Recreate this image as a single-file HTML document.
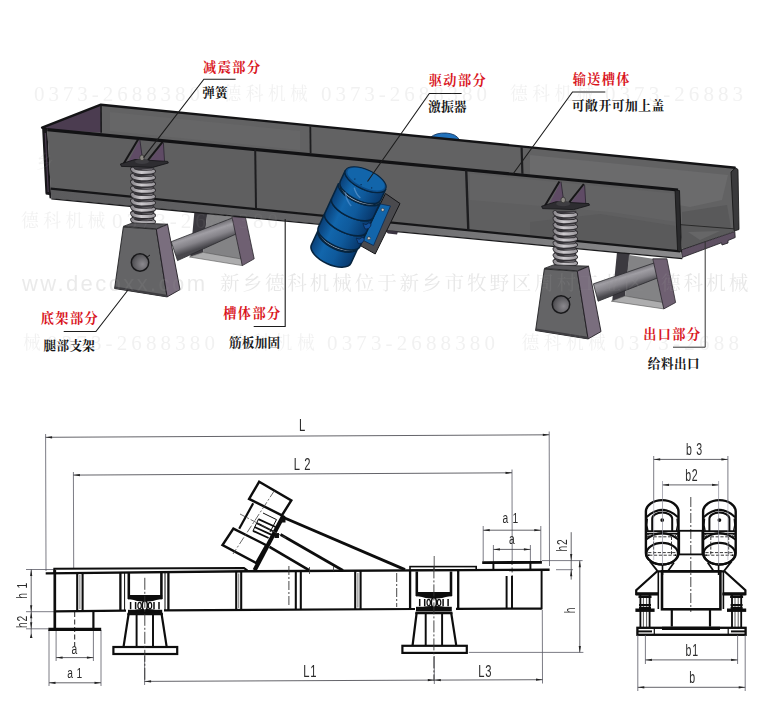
<!DOCTYPE html>
<html lang="zh"><head><meta charset="utf-8"><title>振动输送机结构与外形尺寸图</title>
<style>
html,body{margin:0;padding:0;background:#fff;}
body{width:768px;height:710px;overflow:hidden;font-family:"Liberation Sans",sans-serif;}
svg{display:block;}
</style></head><body>
<svg width="768" height="710" viewBox="0 0 768 710">
<defs>
<linearGradient id="tubeL" gradientUnits="userSpaceOnUse" x1="200" y1="230" x2="205.5" y2="246.5"><stop offset="0" stop-color="#77757b"/><stop offset="0.25" stop-color="#a09ea4"/><stop offset="0.6" stop-color="#858389"/><stop offset="1" stop-color="#48474c"/></linearGradient>
<linearGradient id="tubeR" gradientUnits="userSpaceOnUse" x1="623" y1="273" x2="628" y2="289"><stop offset="0" stop-color="#77757b"/><stop offset="0.25" stop-color="#a09ea4"/><stop offset="0.6" stop-color="#858389"/><stop offset="1" stop-color="#48474c"/></linearGradient>
<linearGradient id="spr" x1="0" y1="0" x2="1" y2="0"><stop offset="0" stop-color="#8f8c91"/><stop offset="0.42" stop-color="#cecbcf"/><stop offset="1" stop-color="#9f9ca1"/></linearGradient>
<linearGradient id="lip" gradientUnits="userSpaceOnUse" x1="50" y1="0" x2="682" y2="0"><stop offset="0" stop-color="#5b5b5d"/><stop offset="0.45" stop-color="#646466"/><stop offset="0.75" stop-color="#7c7c7e"/><stop offset="1" stop-color="#8a8a8c"/></linearGradient>
<radialGradient id="hole" cx="0.65" cy="0.6" r="0.8"><stop offset="0" stop-color="#8a888d"/><stop offset="0.6" stop-color="#5d5c60"/><stop offset="1" stop-color="#3a393d"/></radialGradient>
<linearGradient id="vib" gradientUnits="userSpaceOnUse" x1="-22" y1="0" x2="22" y2="0"><stop offset="0" stop-color="#0a4078"/><stop offset="0.28" stop-color="#1266ac"/><stop offset="0.6" stop-color="#0f5a9c"/><stop offset="1" stop-color="#08386c"/></linearGradient>
</defs>
<rect width="768" height="710" fill="#fff"/>
<g id="view3d">
<polygon points="194.4,212.0 207.5,212.0 203.0,252.5 190.2,256.7" fill="#3b393f" />
<polygon points="207.0,214.0 232.0,216.7 242.3,262.0 203.0,252.3" fill="#838385" />
<polygon points="189.5,257.0 203.0,252.3 241.5,259.0 242.3,265.6" fill="#adadae" stroke="#555" stroke-width="0.6" stroke-linejoin="round" />
<polygon points="171.2,241.7 233.5,217.5 239.8,232.3 177.5,260.6" fill="url(#tubeL)" stroke="#2b2b2e" stroke-width="0.8" stroke-linejoin="round" />
<polygon points="231.9,216.7 245.4,217.1 254.2,258.8 242.3,265.6" fill="#6f6072" stroke="#2a262c" stroke-width="0.8" stroke-linejoin="round" />
<polygon points="616.9,253.0 629.8,253.0 625.0,296.2 612.2,300.9" fill="#3b393f" />
<polygon points="629.0,255.0 652.8,258.8 663.8,305.0 625.0,296.0" fill="#838385" />
<polygon points="611.3,301.2 625.0,296.0 663.0,302.4 663.8,308.9" fill="#adadae" stroke="#555" stroke-width="0.6" stroke-linejoin="round" />
<polygon points="593.4,283.8 657.8,261.7 662.5,276.0 598.1,301.2" fill="url(#tubeR)" stroke="#2b2b2e" stroke-width="0.8" stroke-linejoin="round" />
<polygon points="652.8,258.8 666.9,258.8 675.6,302.5 663.8,308.9" fill="#6f6072" stroke="#2a262c" stroke-width="0.8" stroke-linejoin="round" />
<path d="M430.5,137.3 Q436,132.6 446,133 Q456,133.6 459.5,139.9 Z" fill="#2272bc" stroke="#0b2c55" stroke-width="0.8"/>
<polygon points="42.1,127.6 100.9,104.7 101.2,133.5 47.3,129.7" fill="#4b3c50" />
<polygon points="100.9,104.7 735.5,167.7 734.0,229.0 679.0,225.0 679.0,190.1 47.3,129.7 101.0,132.6" fill="#626263" />
<polygon points="110.0,112.0 300.0,131.0 300.0,150.0 110.0,131.0" fill="#666667" />
<polygon points="530.0,155.0 728.0,175.0 722.0,200.0 690.0,207.0 530.0,180.0" fill="#6b6b6c" />
<polygon points="682.0,212.0 727.0,205.0 731.0,228.0 682.0,224.0" fill="#59595a" />
<polygon points="679.7,224.4 733.8,228.6 734.8,231.3 682.3,250.0" fill="#5a5a5b" />
<polygon points="688.0,232.0 720.0,231.0 700.0,240.0" fill="#666667" />
<polygon points="681.5,249.9 734.8,231.5 735.2,237.5 728.0,240.5 728.0,243.0 722.0,245.0 721.5,242.8 682.0,257.5" fill="#5e5062" stroke="#1c1a1e" stroke-width="0.8" stroke-linejoin="round" />
<polygon points="735.5,167.7 738.0,169.5 739.0,229.5 734.3,231.0 733.8,228.0 731.0,172.0" fill="#3a3a3c" stroke="#111" stroke-width="0.8" stroke-linejoin="round" />
<line x1="679.7" y1="224.6" x2="733.8" y2="228.8" stroke="#222" stroke-width="0.9" />
<polyline points="47.3,129.7 42.1,127.6 100.9,104.7 735.5,167.7" fill="none" stroke="#141416" stroke-width="2.4" stroke-linejoin="round"/>
<line x1="101.0" y1="105.5" x2="101.2" y2="132.8" stroke="#1a1a1c" stroke-width="1.6" />
<line x1="310.3" y1="126.4" x2="310.6" y2="153.0" stroke="#1d1d1f" stroke-width="1.8" />
<line x1="521.6" y1="147.3" x2="522.4" y2="173.8" stroke="#1d1d1f" stroke-width="2.2" />
<polygon points="47.3,129.7 678.0,190.0 680.2,251.0 50.7,188.4" fill="#5f5f60" />
<polygon points="470.0,173.6 676.0,193.8 676.0,222.0 610.0,212.0 470.0,200.0" fill="#636364" />
<polygon points="530.0,222.0 600.0,214.0 676.0,226.0 676.0,250.0 530.0,236.0" fill="#5a5a5b" />
<polygon points="50.7,188.4 680.2,251.0 682.3,258.5 51.3,198.6" fill="url(#lip)" />
<polyline points="51.3,198.8 682.3,258.7" fill="none" stroke="#1a1a1c" stroke-width="1.3" />
<polygon points="42.1,127.6 47.3,129.7 50.7,188.4 51.3,198.6 49.6,198.2 49.2,195.0 45.8,194.6 45.4,193.0" fill="#18171a" />
<line x1="45.3" y1="133.0" x2="48.2" y2="192.0" stroke="#4b3c50" stroke-width="1.2" />
<polyline points="47.3,129.7 678.0,190.0" fill="none" stroke="#121214" stroke-width="3.2" />
<polyline points="50.7,188.7 680.2,251.3" fill="none" stroke="#151517" stroke-width="2.3" />
<polygon points="675.0,189.8 679.5,190.6 681.5,252.1 677.5,250.7" fill="#2a2a2c" stroke="#111" stroke-width="0.8" stroke-linejoin="round" />
<line x1="255.2" y1="149.5" x2="256.0" y2="208.8" stroke="#1d1d1f" stroke-width="2.0" />
<line x1="466.2" y1="170.2" x2="468.3" y2="229.9" stroke="#1d1d1f" stroke-width="2.4" />
<rect x="131.8" y="167.5" width="22.4" height="57.0" fill="#39373c"/>
<path d="M133.1,173.0 Q143.0,169.8 152.9,169.5" fill="none" stroke="#757277" stroke-width="1.8"/>
<path d="M133.1,179.3 Q143.0,176.1 152.9,175.8" fill="none" stroke="#757277" stroke-width="1.8"/>
<path d="M133.1,185.6 Q143.0,182.4 152.9,182.1" fill="none" stroke="#757277" stroke-width="1.8"/>
<path d="M133.1,191.9 Q143.0,188.7 152.9,188.4" fill="none" stroke="#757277" stroke-width="1.8"/>
<path d="M133.1,198.2 Q143.0,195.0 152.9,194.7" fill="none" stroke="#757277" stroke-width="1.8"/>
<path d="M133.1,204.5 Q143.0,201.3 152.9,201.0" fill="none" stroke="#757277" stroke-width="1.8"/>
<path d="M133.1,210.8 Q143.0,207.6 152.9,207.3" fill="none" stroke="#757277" stroke-width="1.8"/>
<path d="M133.1,217.1 Q143.0,213.9 152.9,213.6" fill="none" stroke="#757277" stroke-width="1.8"/>
<path d="M133.1,223.4 Q143.0,220.2 152.9,219.9" fill="none" stroke="#757277" stroke-width="1.8"/>
<path d="M132.5,169.2 Q133.2,172.0 141.5,172.4 Q153.2,172.2 153.5,171.4" fill="none" stroke="#2f2d31" stroke-width="4.8" stroke-linecap="round"/>
<path d="M132.5,169.2 Q133.2,172.0 141.5,172.4 Q153.2,172.2 153.5,171.4" fill="none" stroke="url(#spr)" stroke-width="3.1" stroke-linecap="round"/>
<path d="M132.5,175.6 Q133.2,178.3 141.5,178.7 Q153.2,178.6 153.5,177.7" fill="none" stroke="#2f2d31" stroke-width="4.8" stroke-linecap="round"/>
<path d="M132.5,175.6 Q133.2,178.3 141.5,178.7 Q153.2,178.6 153.5,177.7" fill="none" stroke="url(#spr)" stroke-width="3.1" stroke-linecap="round"/>
<path d="M132.5,181.9 Q133.2,184.6 141.5,185.0 Q153.2,184.9 153.5,184.1" fill="none" stroke="#2f2d31" stroke-width="4.8" stroke-linecap="round"/>
<path d="M132.5,181.9 Q133.2,184.6 141.5,185.0 Q153.2,184.9 153.5,184.1" fill="none" stroke="url(#spr)" stroke-width="3.1" stroke-linecap="round"/>
<path d="M132.5,188.2 Q133.2,190.9 141.5,191.3 Q153.2,191.2 153.5,190.4" fill="none" stroke="#2f2d31" stroke-width="4.8" stroke-linecap="round"/>
<path d="M132.5,188.2 Q133.2,190.9 141.5,191.3 Q153.2,191.2 153.5,190.4" fill="none" stroke="url(#spr)" stroke-width="3.1" stroke-linecap="round"/>
<path d="M132.5,194.5 Q133.2,197.2 141.5,197.6 Q153.2,197.5 153.5,196.7" fill="none" stroke="#2f2d31" stroke-width="4.8" stroke-linecap="round"/>
<path d="M132.5,194.5 Q133.2,197.2 141.5,197.6 Q153.2,197.5 153.5,196.7" fill="none" stroke="url(#spr)" stroke-width="3.1" stroke-linecap="round"/>
<path d="M132.5,200.8 Q133.2,203.5 141.5,203.9 Q153.2,203.8 153.5,203.0" fill="none" stroke="#2f2d31" stroke-width="4.8" stroke-linecap="round"/>
<path d="M132.5,200.8 Q133.2,203.5 141.5,203.9 Q153.2,203.8 153.5,203.0" fill="none" stroke="url(#spr)" stroke-width="3.1" stroke-linecap="round"/>
<path d="M132.5,207.1 Q133.2,209.8 141.5,210.2 Q153.2,210.1 153.5,209.3" fill="none" stroke="#2f2d31" stroke-width="4.8" stroke-linecap="round"/>
<path d="M132.5,207.1 Q133.2,209.8 141.5,210.2 Q153.2,210.1 153.5,209.3" fill="none" stroke="url(#spr)" stroke-width="3.1" stroke-linecap="round"/>
<path d="M132.5,213.4 Q133.2,216.1 141.5,216.5 Q153.2,216.4 153.5,215.6" fill="none" stroke="#2f2d31" stroke-width="4.8" stroke-linecap="round"/>
<path d="M132.5,213.4 Q133.2,216.1 141.5,216.5 Q153.2,216.4 153.5,215.6" fill="none" stroke="url(#spr)" stroke-width="3.1" stroke-linecap="round"/>
<path d="M132.5,219.7 Q133.2,222.4 141.5,222.8 Q153.2,222.7 153.5,221.9" fill="none" stroke="#2f2d31" stroke-width="4.8" stroke-linecap="round"/>
<path d="M132.5,219.7 Q133.2,222.4 141.5,222.8 Q153.2,222.7 153.5,221.9" fill="none" stroke="url(#spr)" stroke-width="3.1" stroke-linecap="round"/>
<polygon points="139.6,139.4 142.2,157.0 127.3,163.4" fill="#5f4b65" />
<polygon points="163.2,142.8 164.4,161.0 151.4,165.0 150.0,160.0" fill="#5f4b65" />
<line x1="138.2" y1="139.2" x2="123.6" y2="163.8" stroke="#161517" stroke-width="2.0" />
<line x1="162.6" y1="141.8" x2="148.0" y2="160.2" stroke="#161517" stroke-width="2.0" />
<line x1="139.8" y1="139.4" x2="142.2" y2="157.0" stroke="#2a2230" stroke-width="0.8" />
<line x1="163.4" y1="142.6" x2="164.5" y2="161.0" stroke="#2a2230" stroke-width="0.8" />
<polygon points="120.4,164.0 135.0,159.5 167.7,161.4 168.3,163.0 152.6,167.4 121.4,166.4" fill="#2e2d31" stroke="#131315" stroke-width="0.8" stroke-linejoin="round" />
<ellipse cx="142" cy="161.5" rx="7" ry="2.6" fill="#3e3d41"/>
<ellipse cx="142" cy="157.8" rx="2.3" ry="2.8" fill="#8d8a84" stroke="#2a2a2a" stroke-width="0.7"/>
<polygon points="123.3,226.4 132.7,222.9 167.6,224.2 156.4,228.8" fill="#57565a" stroke="#2a2a2c" stroke-width="0.9" stroke-linejoin="round" />
<polygon points="123.3,227.1 156.3,229.2 167.1,296.9 114.6,288.5" fill="#646466" stroke="#1f1f21" stroke-width="0.9" stroke-linejoin="round" />
<polygon points="156.3,229.2 167.6,224.4 180.0,289.6 167.1,296.9" fill="#7a6e7e" stroke="#1f1c21" stroke-width="0.9" stroke-linejoin="round" />
<polygon points="115.0,286.5 166.8,294.8 167.1,296.9 114.6,288.5" fill="#3e3d41" />
<circle cx="140" cy="262.5" r="8.7" fill="url(#hole)" stroke="#19191b" stroke-width="1.5"/>
<path d="M146.5,257.5 l3.5,-2.5" stroke="#19191b" stroke-width="1"/>
<rect x="554.3" y="210.8" width="22.0" height="55.2" fill="#39373c"/>
<path d="M555.6,216.1 Q565.3,212.9 575.0,212.8" fill="none" stroke="#757277" stroke-width="1.8"/>
<path d="M555.6,222.2 Q565.3,219.0 575.0,218.8" fill="none" stroke="#757277" stroke-width="1.8"/>
<path d="M555.6,228.3 Q565.3,225.1 575.0,224.9" fill="none" stroke="#757277" stroke-width="1.8"/>
<path d="M555.6,234.4 Q565.3,231.2 575.0,231.0" fill="none" stroke="#757277" stroke-width="1.8"/>
<path d="M555.6,240.5 Q565.3,237.3 575.0,237.1" fill="none" stroke="#757277" stroke-width="1.8"/>
<path d="M555.6,246.6 Q565.3,243.4 575.0,243.2" fill="none" stroke="#757277" stroke-width="1.8"/>
<path d="M555.6,252.7 Q565.3,249.5 575.0,249.3" fill="none" stroke="#757277" stroke-width="1.8"/>
<path d="M555.6,258.8 Q565.3,255.6 575.0,255.4" fill="none" stroke="#757277" stroke-width="1.8"/>
<path d="M555.6,264.9 Q565.3,261.7 575.0,261.5" fill="none" stroke="#757277" stroke-width="1.8"/>
<path d="M555.0,212.6 Q555.7,215.3 563.8,215.7 Q575.3,215.6 575.6,214.7" fill="none" stroke="#2f2d31" stroke-width="4.8" stroke-linecap="round"/>
<path d="M555.0,212.6 Q555.7,215.3 563.8,215.7 Q575.3,215.6 575.6,214.7" fill="none" stroke="url(#spr)" stroke-width="3.1" stroke-linecap="round"/>
<path d="M555.0,218.6 Q555.7,221.3 563.8,221.7 Q575.3,221.6 575.6,220.8" fill="none" stroke="#2f2d31" stroke-width="4.8" stroke-linecap="round"/>
<path d="M555.0,218.6 Q555.7,221.3 563.8,221.7 Q575.3,221.6 575.6,220.8" fill="none" stroke="url(#spr)" stroke-width="3.1" stroke-linecap="round"/>
<path d="M555.0,224.7 Q555.7,227.4 563.8,227.8 Q575.3,227.7 575.6,226.9" fill="none" stroke="#2f2d31" stroke-width="4.8" stroke-linecap="round"/>
<path d="M555.0,224.7 Q555.7,227.4 563.8,227.8 Q575.3,227.7 575.6,226.9" fill="none" stroke="url(#spr)" stroke-width="3.1" stroke-linecap="round"/>
<path d="M555.0,230.8 Q555.7,233.5 563.8,233.9 Q575.3,233.8 575.6,232.9" fill="none" stroke="#2f2d31" stroke-width="4.8" stroke-linecap="round"/>
<path d="M555.0,230.8 Q555.7,233.5 563.8,233.9 Q575.3,233.8 575.6,232.9" fill="none" stroke="url(#spr)" stroke-width="3.1" stroke-linecap="round"/>
<path d="M555.0,236.9 Q555.7,239.6 563.8,240.0 Q575.3,239.9 575.6,239.0" fill="none" stroke="#2f2d31" stroke-width="4.8" stroke-linecap="round"/>
<path d="M555.0,236.9 Q555.7,239.6 563.8,240.0 Q575.3,239.9 575.6,239.0" fill="none" stroke="url(#spr)" stroke-width="3.1" stroke-linecap="round"/>
<path d="M555.0,243.0 Q555.7,245.7 563.8,246.1 Q575.3,246.0 575.6,245.1" fill="none" stroke="#2f2d31" stroke-width="4.8" stroke-linecap="round"/>
<path d="M555.0,243.0 Q555.7,245.7 563.8,246.1 Q575.3,246.0 575.6,245.1" fill="none" stroke="url(#spr)" stroke-width="3.1" stroke-linecap="round"/>
<path d="M555.0,249.1 Q555.7,251.8 563.8,252.2 Q575.3,252.1 575.6,251.2" fill="none" stroke="#2f2d31" stroke-width="4.8" stroke-linecap="round"/>
<path d="M555.0,249.1 Q555.7,251.8 563.8,252.2 Q575.3,252.1 575.6,251.2" fill="none" stroke="url(#spr)" stroke-width="3.1" stroke-linecap="round"/>
<path d="M555.0,255.2 Q555.7,257.9 563.8,258.3 Q575.3,258.2 575.6,257.3" fill="none" stroke="#2f2d31" stroke-width="4.8" stroke-linecap="round"/>
<path d="M555.0,255.2 Q555.7,257.9 563.8,258.3 Q575.3,258.2 575.6,257.3" fill="none" stroke="url(#spr)" stroke-width="3.1" stroke-linecap="round"/>
<path d="M555.0,261.3 Q555.7,264.0 563.8,264.4 Q575.3,264.3 575.6,263.4" fill="none" stroke="#2f2d31" stroke-width="4.8" stroke-linecap="round"/>
<path d="M555.0,261.3 Q555.7,264.0 563.8,264.4 Q575.3,264.3 575.6,263.4" fill="none" stroke="url(#spr)" stroke-width="3.1" stroke-linecap="round"/>
<polygon points="560.8,181.6 563.4,199.2 548.5,205.6" fill="#5f4b65" />
<polygon points="584.5,185.0 585.6,203.2 572.6,207.2 571.2,202.2" fill="#5f4b65" />
<line x1="559.4" y1="181.4" x2="544.8" y2="206.0" stroke="#161517" stroke-width="2.0" />
<line x1="583.8" y1="184.0" x2="569.2" y2="202.4" stroke="#161517" stroke-width="2.0" />
<line x1="561.0" y1="181.6" x2="563.4" y2="199.2" stroke="#2a2230" stroke-width="0.8" />
<line x1="584.6" y1="184.8" x2="585.7" y2="203.2" stroke="#2a2230" stroke-width="0.8" />
<polygon points="541.6,206.2 556.2,201.7 588.9,203.6 589.5,205.2 573.8,209.6 542.6,208.6" fill="#2e2d31" stroke="#131315" stroke-width="0.8" stroke-linejoin="round" />
<ellipse cx="563.2" cy="203.7" rx="7" ry="2.6" fill="#3e3d41"/>
<ellipse cx="563.2" cy="200.0" rx="2.3" ry="2.8" fill="#8d8a84" stroke="#2a2a2a" stroke-width="0.7"/>
<polygon points="544.3,268.4 553.7,264.9 588.6,266.2 577.4,270.8" fill="#57565a" stroke="#2a2a2c" stroke-width="0.9" stroke-linejoin="round" />
<polygon points="544.3,269.1 577.3,271.2 588.1,338.9 535.6,330.5" fill="#646466" stroke="#1f1f21" stroke-width="0.9" stroke-linejoin="round" />
<polygon points="577.3,271.2 588.6,266.4 601.0,331.6 588.1,338.9" fill="#7a6e7e" stroke="#1f1c21" stroke-width="0.9" stroke-linejoin="round" />
<polygon points="536.0,328.5 587.8,336.8 588.1,338.9 535.6,330.5" fill="#3e3d41" />
<circle cx="561.0" cy="304.5" r="8.7" fill="url(#hole)" stroke="#19191b" stroke-width="1.5"/>
<path d="M567.5,299.5 l3.5,-2.5" stroke="#19191b" stroke-width="1"/>
<g>
<polygon points="384.0,230.1 398.0,231.5 397.0,234.4 388.0,233.5" fill="#3a3440" />
<polygon points="385.5,193.5 400.0,203.5 375.2,254.0 359.8,245.3" fill="#4a4a4e" stroke="#151517" stroke-width="1.0" stroke-linejoin="round" />
<polygon points="380.5,204.0 390.5,206.0 373.5,245.5 362.0,239.8" fill="#1265aa" stroke="#0b2a52" stroke-width="0.8" stroke-linejoin="round" />
<circle cx="382.7" cy="209.8" r="1.5" fill="#c9c9c9" stroke="#222" stroke-width="0.5"/><circle cx="368.9" cy="238.2" r="1.5" fill="#c9c9c9" stroke="#222" stroke-width="0.5"/>
<g transform="translate(365.6,179.6) rotate(24.80)">
<path d="M-21.8,65.5 L-21.8,82 A21.8,10.4 0 0 0 21.8,82 L21.8,65.5 A21.8,10.4 0 0 1 -21.8,65.5 Z" fill="url(#vib)" stroke="#06243f" stroke-width="1.5"/>
<path d="M-20.8,63.2 L-20.8,65.5 A20.8,9.8 0 0 0 20.8,65.5 L20.8,63.2 A20.8,9.8 0 0 1 -20.8,63.2 Z" fill="#a3adba" stroke="#06243f" stroke-width="1.5"/>
<path d="M-22.9,47.5 L-22.9,63.2 A22.9,9.8 0 0 0 22.9,63.2 L22.9,47.5 A22.9,9.8 0 0 1 -22.9,47.5 Z" fill="url(#vib)" stroke="#06243f" stroke-width="1.5"/>
<path d="M-22.9,31 L-22.9,47.5 A22.9,9.8 0 0 0 22.9,47.5 L22.9,31 A22.9,9.8 0 0 1 -22.9,31 Z" fill="url(#vib)" stroke="#06243f" stroke-width="1.5"/>
<path d="M-22.9,14.5 L-22.9,31 A22.9,9.8 0 0 0 22.9,31 L22.9,14.5 A22.9,9.8 0 0 1 -22.9,14.5 Z" fill="url(#vib)" stroke="#06243f" stroke-width="1.5"/>
<path d="M-20.8,12 L-20.8,14.5 A20.8,9.8 0 0 0 20.8,14.5 L20.8,12 A20.8,9.8 0 0 1 -20.8,12 Z" fill="#a3adba" stroke="#06243f" stroke-width="1.5"/>
<path d="M-22.3,0 L-22.3,12.2 A22.3,9.8 0 0 0 22.3,12.2 L22.3,0 A22.3,9.8 0 0 1 -22.3,0 Z" fill="url(#vib)" stroke="#06243f" stroke-width="1.5"/>
<path d="M-13,20 Q-9,27 -2,30" fill="none" stroke="#5c9bdc" stroke-width="1.6" opacity="0.55"/>
<path d="M-7,12 Q-3,17 3,19" fill="none" stroke="#7fb0e0" stroke-width="1.4" opacity="0.5"/>
<path d="M16,41 q4,1 5,-3 q3,-1 3,2 q0,4 -4,5 z" fill="#14509a" stroke="#0a2447" stroke-width="0.7"/>
<path d="M16,57 q4,1 5,-3 q3,-1 3,2 q0,4 -4,5 z" fill="#14509a" stroke="#0a2447" stroke-width="0.7"/>
<ellipse cx="0" cy="0" rx="22.2" ry="9.8" fill="#0d4c88" stroke="#06243f" stroke-width="1.1"/>
<ellipse cx="0.2" cy="-0.6" rx="20.2" ry="8.3" fill="#1265aa"/>
<circle cx="-10" cy="4.0" r="0.6" fill="#08203f"/><circle cx="-2" cy="6.5" r="0.6" fill="#08203f"/><circle cx="9" cy="5.0" r="0.6" fill="#08203f"/>
</g></g>
<polyline points="235.6,79.2 203.9,79.2 143.5,157.7" fill="none" stroke="#1c1c1c" stroke-width="1.1" />
<polyline points="461.6,93.5 429.3,93.5 367.5,181.5" fill="none" stroke="#1c1c1c" stroke-width="1.1" />
<polyline points="605.3,92.0 572.5,92.0 513.0,174.0" fill="none" stroke="#1c1c1c" stroke-width="1.1" />
<polyline points="63.7,331.5 95.9,331.5 128.0,290.0" fill="none" stroke="#1c1c1c" stroke-width="1.1" />
<polyline points="285.2,219.0 285.2,326.5 253.7,326.5" fill="none" stroke="#1c1c1c" stroke-width="1.1" />
<polyline points="705.2,241.5 705.2,347.2 673.0,347.2" fill="none" stroke="#333" stroke-width="1.0" />
<text x="203.0" y="71.7" font-family="'Liberation Serif', 'Noto Serif CJK SC', serif" font-size="13.2" font-weight="bold" fill="#d9151d" textLength="57.2" lengthAdjust="spacing">减震部分</text>
<text x="202.3" y="96.7" font-family="'Liberation Serif', 'Noto Serif CJK SC', serif" font-size="12.6" font-weight="bold" fill="#161616" textLength="25.2" lengthAdjust="spacing">弹簧</text>
<text x="428.8" y="85.2" font-family="'Liberation Serif', 'Noto Serif CJK SC', serif" font-size="13.2" font-weight="bold" fill="#d9151d" textLength="56.9" lengthAdjust="spacing">驱动部分</text>
<text x="428.0" y="111.3" font-family="'Liberation Serif', 'Noto Serif CJK SC', serif" font-size="12.8" font-weight="bold" fill="#161616" textLength="38.6" lengthAdjust="spacing">激振器</text>
<text x="572.8" y="84.0" font-family="'Liberation Serif', 'Noto Serif CJK SC', serif" font-size="13.2" font-weight="bold" fill="#d9151d" textLength="56.6" lengthAdjust="spacing">输送槽体</text>
<text x="571.8" y="109.6" font-family="'Liberation Serif', 'Noto Serif CJK SC', serif" font-size="12.8" font-weight="bold" fill="#161616" textLength="92.6" lengthAdjust="spacing">可敞开可加上盖</text>
<text x="40.8" y="323.2" font-family="'Liberation Serif', 'Noto Serif CJK SC', serif" font-size="13.2" font-weight="bold" fill="#d9151d" textLength="56.9" lengthAdjust="spacing">底架部分</text>
<text x="43.6" y="350.4" font-family="'Liberation Serif', 'Noto Serif CJK SC', serif" font-size="12.6" font-weight="bold" fill="#161616" textLength="51.3" lengthAdjust="spacing">腿部支架</text>
<text x="223.3" y="318.2" font-family="'Liberation Serif', 'Noto Serif CJK SC', serif" font-size="13.2" font-weight="bold" fill="#d9151d" textLength="56.9" lengthAdjust="spacing">槽体部分</text>
<text x="228.9" y="347.3" font-family="'Liberation Serif', 'Noto Serif CJK SC', serif" font-size="12.6" font-weight="bold" fill="#161616" textLength="51.3" lengthAdjust="spacing">筋板加固</text>
<text x="643.2" y="338.6" font-family="'Liberation Serif', 'Noto Serif CJK SC', serif" font-size="13.2" font-weight="bold" fill="#d9151d" textLength="56.9" lengthAdjust="spacing">出口部分</text>
<text x="647.8" y="368.1" font-family="'Liberation Serif', 'Noto Serif CJK SC', serif" font-size="12.6" font-weight="bold" fill="#161616" textLength="51.9" lengthAdjust="spacing">给料出口</text>
<g style="filter:grayscale(1)">
<text x="34.0" y="100.8" font-family="Liberation Serif, serif" font-size="21" fill="#909090" fill-opacity="0.125" textLength="166.0" lengthAdjust="spacing">0373-2688380</text>
<text x="223.5" y="99.8" font-family="'Liberation Serif', 'Noto Serif CJK SC', serif" font-size="17.8" fill="#909090" fill-opacity="0.125" textLength="84.4" lengthAdjust="spacing">德科机械</text>
<text x="321.0" y="100.8" font-family="Liberation Serif, serif" font-size="21" fill="#909090" fill-opacity="0.125" textLength="166.0" lengthAdjust="spacing">0373-2688380</text>
<text x="510.0" y="99.8" font-family="'Liberation Serif', 'Noto Serif CJK SC', serif" font-size="17.8" fill="#909090" fill-opacity="0.125" textLength="84.4" lengthAdjust="spacing">德科机械</text>
<text x="605.0" y="100.8" font-family="Liberation Serif, serif" font-size="21" fill="#909090" fill-opacity="0.125" textLength="138.0" lengthAdjust="spacing">0373-26883</text>
<text x="36.0" y="167.8" font-family="'Liberation Serif', 'Noto Serif CJK SC', serif" font-size="17.8" fill="#909090" fill-opacity="0.125">乡</text>
<text x="21.0" y="226.5" font-family="'Liberation Serif', 'Noto Serif CJK SC', serif" font-size="17.8" fill="#909090" fill-opacity="0.125" textLength="84.4" lengthAdjust="spacing">德科机械</text>
<text x="112.0" y="227.5" font-family="Liberation Serif, serif" font-size="21" fill="#909090" fill-opacity="0.125" textLength="166.0" lengthAdjust="spacing">0373-2688380</text>
<text x="22" y="290.7" font-family="Liberation Sans, sans-serif" font-size="22" fill="#909090" fill-opacity="0.19" textLength="183" lengthAdjust="spacing">ww.decoxx.com</text>
<text x="220.0" y="290.3" font-family="'Liberation Serif', 'Noto Serif CJK SC', serif" font-size="19.6" fill="#909090" fill-opacity="0.22" textLength="423.7" lengthAdjust="spacing">新乡德科机械位于新乡市牧野区周村工业区</text>
<text x="661.0" y="290.3" font-family="'Liberation Serif', 'Noto Serif CJK SC', serif" font-size="19.6" fill="#909090" fill-opacity="0.22" textLength="87.4" lengthAdjust="spacing">德科机械</text>
<text x="23.0" y="348.8" font-family="'Liberation Serif', 'Noto Serif CJK SC', serif" font-size="17.8" fill="#909090" fill-opacity="0.125">械</text>
<text x="47.0" y="349.8" font-family="Liberation Serif, serif" font-size="21" fill="#909090" fill-opacity="0.125" textLength="168.0" lengthAdjust="spacing">0373-2688380</text>
<text x="229.5" y="348.8" font-family="'Liberation Serif', 'Noto Serif CJK SC', serif" font-size="17.8" fill="#909090" fill-opacity="0.125" textLength="85.3" lengthAdjust="spacing">德科机械</text>
<text x="327.0" y="349.8" font-family="Liberation Serif, serif" font-size="21" fill="#909090" fill-opacity="0.125" textLength="168.0" lengthAdjust="spacing">0373-2688380</text>
<text x="521.5" y="348.8" font-family="'Liberation Serif', 'Noto Serif CJK SC', serif" font-size="17.8" fill="#909090" fill-opacity="0.125" textLength="84.4" lengthAdjust="spacing">德科机械</text>
<text x="614.0" y="349.8" font-family="Liberation Serif, serif" font-size="21" fill="#909090" fill-opacity="0.125" textLength="125.0" lengthAdjust="spacing">0373-2688</text>
</g>
</g>
<g id="drawing2d">
<line x1="45.6" y1="434.0" x2="46.0" y2="571.0" stroke="#5a5a66" stroke-width="0.8" />
<line x1="549.2" y1="431.5" x2="549.5" y2="566.0" stroke="#5a5a66" stroke-width="0.8" />
<line x1="45.6" y1="437.3" x2="549.3" y2="434.8" stroke="#3c3c44" stroke-width="0.8" />
<path d="M45.6,437.3 l6.5,-1.1 v2.2 z M549.3,434.8 l-6.5,-1.1 v2.2 z" fill="#222"/>
<line x1="73.4" y1="472.0" x2="73.7" y2="568.0" stroke="#5a5a66" stroke-width="0.8" />
<line x1="512.0" y1="469.5" x2="512.2" y2="560.0" stroke="#5a5a66" stroke-width="0.8" />
<line x1="73.4" y1="475.1" x2="512.0" y2="472.8" stroke="#3c3c44" stroke-width="0.8" />
<path d="M73.4,475.1 l6.5,-1.1 v2.2 z M512.0,472.8 l-6.5,-1.1 v2.2 z" fill="#222"/>
<line x1="26.0" y1="569.5" x2="54.0" y2="569.5" stroke="#5a5a66" stroke-width="0.8" />
<line x1="26.0" y1="611.7" x2="54.0" y2="611.7" stroke="#5a5a66" stroke-width="0.8" />
<line x1="26.0" y1="628.8" x2="48.0" y2="628.8" stroke="#5a5a66" stroke-width="0.8" />
<line x1="31.2" y1="569.5" x2="31.2" y2="611.7" stroke="#3c3c44" stroke-width="0.8" />
<path d="M31.2,569.5 l-1.1,6.5 h2.2 z M31.2,611.7 l-1.1,-6.5 h2.2 z" fill="#222"/>
<line x1="31.2" y1="611.7" x2="31.2" y2="638.0" stroke="#3c3c44" stroke-width="0.8" />
<path d="M31.2,628.8 l-1.1,-6.5 h2.2 z M31.2,633.5 l-1.3,4.5 h2.6 z M31.2,611.7 l-1.1,6.5 h2.2z" fill="#222"/>
<line x1="56.1" y1="630.0" x2="56.1" y2="661.0" stroke="#5a5a66" stroke-width="0.8" />
<line x1="93.4" y1="630.0" x2="93.4" y2="661.0" stroke="#5a5a66" stroke-width="0.8" />
<line x1="56.1" y1="657.6" x2="93.4" y2="657.6" stroke="#3c3c44" stroke-width="0.8" />
<path d="M56.1,657.6 l6.5,-1.1 v2.2 z M93.4,657.6 l-6.5,-1.1 v2.2 z" fill="#222"/>
<line x1="49.0" y1="630.0" x2="49.0" y2="686.0" stroke="#5a5a66" stroke-width="0.8" />
<line x1="101.0" y1="630.0" x2="101.0" y2="686.0" stroke="#5a5a66" stroke-width="0.8" />
<line x1="49.0" y1="682.8" x2="101.0" y2="682.8" stroke="#3c3c44" stroke-width="0.8" />
<path d="M49.0,682.8 l6.5,-1.1 v2.2 z M101.0,682.8 l-6.5,-1.1 v2.2 z" fill="#222"/>
<line x1="74.7" y1="612.0" x2="74.7" y2="646.0" stroke="#222" stroke-width="1.0" stroke-dasharray="5 2.5"/>
<line x1="144.6" y1="656.0" x2="144.6" y2="685.0" stroke="#5a5a66" stroke-width="0.8" />
<line x1="434.3" y1="656.0" x2="434.3" y2="684.0" stroke="#5a5a66" stroke-width="0.8" />
<line x1="542.3" y1="610.0" x2="542.5" y2="683.5" stroke="#5a5a66" stroke-width="0.8" />
<line x1="144.6" y1="681.4" x2="434.3" y2="680.1" stroke="#3c3c44" stroke-width="0.8" />
<path d="M144.6,681.4 l6.5,-1.1 v2.2 z M434.3,680.1 l-6.5,-1.1 v2.2 z" fill="#222"/>
<line x1="434.3" y1="680.1" x2="542.5" y2="679.7" stroke="#3c3c44" stroke-width="0.8" />
<path d="M434.3,680.1 l6.5,-1.1 v2.2 z M542.5,679.7 l-6.5,-1.1 v2.2 z" fill="#222"/>
<line x1="483.2" y1="526.0" x2="483.2" y2="561.0" stroke="#5a5a66" stroke-width="0.8" />
<line x1="540.8" y1="526.0" x2="540.8" y2="561.0" stroke="#5a5a66" stroke-width="0.8" />
<line x1="483.2" y1="530.2" x2="540.8" y2="530.2" stroke="#3c3c44" stroke-width="0.8" />
<path d="M483.2,530.2 l6.5,-1.1 v2.2 z M540.8,530.2 l-6.5,-1.1 v2.2 z" fill="#222"/>
<line x1="493.4" y1="545.0" x2="493.4" y2="563.0" stroke="#5a5a66" stroke-width="0.8" />
<line x1="530.4" y1="545.0" x2="530.4" y2="563.0" stroke="#5a5a66" stroke-width="0.8" />
<line x1="493.4" y1="549.4" x2="530.4" y2="549.4" stroke="#3c3c44" stroke-width="0.8" />
<path d="M493.4,549.4 l6.5,-1.1 v2.2 z M530.4,549.4 l-6.5,-1.1 v2.2 z" fill="#222"/>
<line x1="512.0" y1="560.0" x2="512.3" y2="588.0" stroke="#333" stroke-width="0.9" stroke-dasharray="5 2.5"/>
<line x1="542.0" y1="560.6" x2="582.6" y2="560.6" stroke="#5a5a66" stroke-width="0.8" />
<line x1="556.0" y1="569.7" x2="573.0" y2="569.7" stroke="#5a5a66" stroke-width="0.8" />
<line x1="468.8" y1="652.4" x2="583.4" y2="652.4" stroke="#5a5a66" stroke-width="0.8" />
<line x1="579.8" y1="560.7" x2="579.8" y2="652.4" stroke="#3c3c44" stroke-width="0.8" />
<path d="M579.8,560.7 l-1.1,6.5 h2.2 z M579.8,652.4 l-1.1,-6.5 h2.2 z" fill="#222"/>
<line x1="571.2" y1="532.2" x2="571.2" y2="579.6" stroke="#3c3c44" stroke-width="0.8" />
<path d="M571.2,560.6 l-1.1,-6.5 h2.2 z M571.2,569.7 l-1.1,6.5 h2.2 z" fill="#222"/>
<polyline points="45.7,573.4 247.0,571.2 549.6,569.7" fill="none" stroke="#0d0d0d" stroke-width="2.44" stroke-linejoin="miter" />
<polyline points="54.3,573.0 54.3,568.8 244.0,568.1 247.5,570.6" fill="none" stroke="#0d0d0d" stroke-width="1.952" stroke-linejoin="miter" />
<line x1="54.8" y1="570.0" x2="54.8" y2="629.0" stroke="#0d0d0d" stroke-width="2.684" />
<line x1="54.8" y1="611.3" x2="126.0" y2="610.6" stroke="#0d0d0d" stroke-width="2.196" />
<line x1="164.0" y1="610.3" x2="415.0" y2="609.0" stroke="#0d0d0d" stroke-width="2.196" />
<line x1="456.0" y1="608.8" x2="541.6" y2="608.6" stroke="#0d0d0d" stroke-width="2.196" />
<line x1="541.6" y1="570.5" x2="541.6" y2="609.4" stroke="#0d0d0d" stroke-width="1.952" />
<line x1="93.4" y1="611.0" x2="93.4" y2="629.0" stroke="#0d0d0d" stroke-width="2.196" />
<line x1="48.3" y1="629.3" x2="101.2" y2="629.3" stroke="#0d0d0d" stroke-width="3.172" />
<line x1="77.2" y1="573.0" x2="77.2" y2="611.0" stroke="#0d0d0d" stroke-width="2.074" />
<line x1="82.6" y1="573.0" x2="82.6" y2="611.0" stroke="#0d0d0d" stroke-width="2.074" />
<line x1="79.9" y1="575.0" x2="79.9" y2="609.0" stroke="#444" stroke-width="0.7" />
<line x1="120.4" y1="573.0" x2="120.4" y2="611.0" stroke="#0d0d0d" stroke-width="2.318" />
<line x1="124.6" y1="573.0" x2="124.6" y2="611.0" stroke="#0d0d0d" stroke-width="1.0" />
<line x1="165.0" y1="573.0" x2="165.0" y2="610.5" stroke="#0d0d0d" stroke-width="1.0" />
<line x1="168.4" y1="573.0" x2="168.4" y2="610.5" stroke="#0d0d0d" stroke-width="2.318" />
<line x1="236.2" y1="571.5" x2="236.2" y2="610.0" stroke="#0d0d0d" stroke-width="2.074" />
<line x1="241.2" y1="571.5" x2="241.2" y2="610.0" stroke="#0d0d0d" stroke-width="2.074" />
<line x1="238.7" y1="573.5" x2="238.7" y2="608.0" stroke="#444" stroke-width="0.7" />
<line x1="295.8" y1="571.0" x2="295.8" y2="609.8" stroke="#0d0d0d" stroke-width="2.074" />
<line x1="300.8" y1="571.0" x2="300.8" y2="609.8" stroke="#0d0d0d" stroke-width="2.074" />
<line x1="355.2" y1="571.0" x2="355.2" y2="609.5" stroke="#0d0d0d" stroke-width="2.074" />
<line x1="360.6" y1="571.0" x2="360.6" y2="609.5" stroke="#0d0d0d" stroke-width="2.074" />
<line x1="357.9" y1="573.0" x2="357.9" y2="607.5" stroke="#444" stroke-width="0.7" />
<line x1="410.1" y1="571.0" x2="410.1" y2="609.0" stroke="#0d0d0d" stroke-width="2.318" />
<line x1="458.2" y1="571.0" x2="458.2" y2="609.0" stroke="#0d0d0d" stroke-width="2.318" />
<line x1="506.6" y1="576.0" x2="506.6" y2="608.6" stroke="#0d0d0d" stroke-width="1.952" />
<line x1="512.0" y1="576.0" x2="512.0" y2="608.6" stroke="#0d0d0d" stroke-width="1.952" />
<line x1="288.9" y1="566.0" x2="288.9" y2="606.0" stroke="#333" stroke-width="0.9" stroke-dasharray="9 2 2 2"/>
<line x1="396.7" y1="573.0" x2="396.7" y2="607.0" stroke="#333" stroke-width="0.9" stroke-dasharray="9 2 2 2"/>
<line x1="482.2" y1="562.6" x2="541.9" y2="562.4" stroke="#0d0d0d" stroke-width="2.928" />
<line x1="493.4" y1="563.0" x2="493.4" y2="570.0" stroke="#0d0d0d" stroke-width="1.952" />
<line x1="530.4" y1="563.0" x2="530.4" y2="569.6" stroke="#0d0d0d" stroke-width="1.952" />
<rect x="410.0" y="566.6" width="66.2" height="3.6" fill="none" stroke="#0d0d0d" stroke-width="1.586"/>
<polyline points="128.8,572.8 128.8,597.6 161.4,597.6 161.4,572.8" fill="none" stroke="#0d0d0d" stroke-width="2.562" stroke-linejoin="miter" />
<rect x="128.0" y="595.0" width="34.2" height="4.4" fill="#0d0d0d"/>
<rect x="128.0" y="609.8" width="34.2" height="4.6" fill="#0d0d0d"/>
<path d="M128.8,598.6 Q144.8,605.1 161.4,598.6 Z" fill="#0d0d0d"/>
<path d="M128.8,611.4 Q144.8,605.9 161.4,611.4 Z" fill="#0d0d0d"/>
<line x1="130.60000000000002" y1="602.0" x2="130.60000000000002" y2="609.2" stroke="#0d0d0d" stroke-width="1.5"/>
<line x1="135.60000000000002" y1="602.0" x2="135.60000000000002" y2="609.2" stroke="#0d0d0d" stroke-width="1.5"/>
<line x1="154.0" y1="602.0" x2="154.0" y2="609.2" stroke="#0d0d0d" stroke-width="1.5"/>
<line x1="159.0" y1="602.0" x2="159.0" y2="609.2" stroke="#0d0d0d" stroke-width="1.5"/>
<ellipse cx="139.60000000000002" cy="605.6" rx="1.7" ry="3.2" fill="none" stroke="#0d0d0d" stroke-width="1.2"/>
<ellipse cx="150.0" cy="605.6" rx="1.7" ry="3.2" fill="none" stroke="#0d0d0d" stroke-width="1.2"/>
<ellipse cx="144.8" cy="605.6" rx="2.5" ry="4.8" fill="#fff" stroke="#0d0d0d" stroke-width="1.5"/>
<polyline points="128.6,614.0 123.6,646.4" fill="none" stroke="#0d0d0d" stroke-width="2.196" stroke-linejoin="miter" />
<polyline points="161.6,614.0 166.6,646.4" fill="none" stroke="#0d0d0d" stroke-width="2.196" stroke-linejoin="miter" />
<line x1="127.3" y1="614.0" x2="162.9" y2="614.0" stroke="#0d0d0d" stroke-width="2.44" />
<line x1="136.6" y1="614.0" x2="136.6" y2="646.4" stroke="#0d0d0d" stroke-width="1.952" />
<line x1="153.0" y1="614.0" x2="153.0" y2="646.4" stroke="#0d0d0d" stroke-width="1.952" />
<rect x="113.4" y="647.0" width="63.8" height="7.0" fill="none" stroke="#0d0d0d" stroke-width="2.196"/>
<line x1="144.8" y1="577.8" x2="144.8" y2="682.0" stroke="#333" stroke-width="0.9" stroke-dasharray="12 2 2 2"/>
<polyline points="416.8,571.4 416.8,594.6 451.0,594.6 451.0,571.4" fill="none" stroke="#0d0d0d" stroke-width="2.562" stroke-linejoin="miter" />
<rect x="416.0" y="592.0" width="35.8" height="4.4" fill="#0d0d0d"/>
<rect x="416.0" y="606.8" width="35.8" height="4.6" fill="#0d0d0d"/>
<path d="M416.8,595.6 Q433.9,602.1 451.0,595.6 Z" fill="#0d0d0d"/>
<path d="M416.8,608.4 Q433.9,602.9 451.0,608.4 Z" fill="#0d0d0d"/>
<line x1="419.7" y1="599.0" x2="419.7" y2="606.2" stroke="#0d0d0d" stroke-width="1.5"/>
<line x1="424.7" y1="599.0" x2="424.7" y2="606.2" stroke="#0d0d0d" stroke-width="1.5"/>
<line x1="443.09999999999997" y1="599.0" x2="443.09999999999997" y2="606.2" stroke="#0d0d0d" stroke-width="1.5"/>
<line x1="448.09999999999997" y1="599.0" x2="448.09999999999997" y2="606.2" stroke="#0d0d0d" stroke-width="1.5"/>
<ellipse cx="428.7" cy="602.6" rx="1.7" ry="3.2" fill="none" stroke="#0d0d0d" stroke-width="1.2"/>
<ellipse cx="439.09999999999997" cy="602.6" rx="1.7" ry="3.2" fill="none" stroke="#0d0d0d" stroke-width="1.2"/>
<ellipse cx="433.9" cy="602.6" rx="2.5" ry="4.8" fill="#fff" stroke="#0d0d0d" stroke-width="1.5"/>
<polyline points="416.6,613.0 412.6,645.2" fill="none" stroke="#0d0d0d" stroke-width="2.196" stroke-linejoin="miter" />
<polyline points="451.2,613.0 456.2,645.2" fill="none" stroke="#0d0d0d" stroke-width="2.196" stroke-linejoin="miter" />
<line x1="415.3" y1="613.0" x2="452.5" y2="613.0" stroke="#0d0d0d" stroke-width="2.44" />
<line x1="425.7" y1="613.0" x2="425.7" y2="645.2" stroke="#0d0d0d" stroke-width="1.952" />
<line x1="442.1" y1="613.0" x2="442.1" y2="645.2" stroke="#0d0d0d" stroke-width="1.952" />
<rect x="402.4" y="645.8" width="64.4" height="7.1" fill="none" stroke="#0d0d0d" stroke-width="2.196"/>
<line x1="433.9" y1="566.4" x2="433.9" y2="680.9" stroke="#333" stroke-width="0.9" stroke-dasharray="12 2 2 2"/>
<line x1="434.2" y1="556.0" x2="434.2" y2="571.0" stroke="#333" stroke-width="0.8" />
<line x1="283.5" y1="517.5" x2="405.0" y2="569.6" stroke="#0d0d0d" stroke-width="2.928" />
<line x1="280.5" y1="534.5" x2="343.0" y2="570.5" stroke="#0d0d0d" stroke-width="2.684" />
<line x1="269.5" y1="546.8" x2="309.0" y2="570.2" stroke="#0d0d0d" stroke-width="2.684" />
<line x1="283.6" y1="515.2" x2="254.6" y2="570.2" stroke="#0d0d0d" stroke-width="4.148" />
<rect x="281" y="519" width="4.5" height="3.5" fill="#111"/><rect x="274.5" y="533" width="4.5" height="5" fill="#111"/>
<polygon points="259.2,481.7 291.3,500.5 281.9,515.3 249.1,498.9" fill="#fff" stroke="#0d0d0d" stroke-width="2.44" stroke-linejoin="miter" />
<polyline points="253.2,503.2 239.2,528.8" fill="none" stroke="#0d0d0d" stroke-width="2.196" stroke-linejoin="miter" />
<polygon points="233.4,528.6 266.3,545.2 256.1,563.0 222.5,545.0" fill="#fff" stroke="#0d0d0d" stroke-width="2.44" stroke-linejoin="miter" />
<line x1="258.4" y1="519.2" x2="275.6" y2="527.0" stroke="#0d0d0d" stroke-width="1.83" />
<line x1="256.9" y1="523.1" x2="274.1" y2="531.7" stroke="#0d0d0d" stroke-width="1.83" />
<line x1="254.5" y1="527.0" x2="271.7" y2="534.8" stroke="#0d0d0d" stroke-width="1.83" />
<line x1="253.0" y1="530.9" x2="268.6" y2="538.0" stroke="#0d0d0d" stroke-width="1.83" />
<line x1="258.4" y1="519.2" x2="253.0" y2="530.9" stroke="#0d0d0d" stroke-width="1.0" />
<polyline points="263.0,513.0 276.5,519.6 270.0,532.0" fill="none" stroke="#0d0d0d" stroke-width="1.0" stroke-linejoin="miter" />
<line x1="274.5" y1="490.5" x2="233.0" y2="554.0" stroke="#444" stroke-width="0.8" stroke-dasharray="8 2 2 2"/>
<line x1="240.0" y1="514.0" x2="286.0" y2="538.0" stroke="#444" stroke-width="0.8" stroke-dasharray="6 2 2 2"/>
<line x1="309.5" y1="567.0" x2="309.5" y2="574.0" stroke="#333" stroke-width="0.8" />
<line x1="333.5" y1="566.0" x2="333.5" y2="571.0" stroke="#333" stroke-width="0.8" />
<line x1="653.7" y1="459.4" x2="727.9" y2="459.4" stroke="#3c3c44" stroke-width="0.8" />
<path d="M653.7,459.4 l6.5,-1.1 v2.2 z M727.9,459.4 l-6.5,-1.1 v2.2 z" fill="#222"/>
<line x1="662.5" y1="484.9" x2="718.6" y2="484.9" stroke="#3c3c44" stroke-width="0.8" />
<path d="M662.5,484.9 l6.5,-1.1 v2.2 z M718.6,484.9 l-6.5,-1.1 v2.2 z" fill="#222"/>
<line x1="653.7" y1="456.0" x2="653.7" y2="501.0" stroke="#5a5a66" stroke-width="0.8" />
<line x1="727.9" y1="456.0" x2="727.9" y2="501.0" stroke="#5a5a66" stroke-width="0.8" />
<line x1="690.8" y1="497.0" x2="690.8" y2="612.0" stroke="#333" stroke-width="0.9" stroke-dasharray="10 2 2 2"/>
<path d="M645.9000000000001,553 V511.5 A16.3,11.4 0 0 1 678.5,511.5 V553 A16.3,11.5 0 0 1 645.9000000000001,553 Z" fill="#fff" stroke="#0d0d0d" stroke-width="2.4"/>
<path d="M646.4000000000001,517.2 Q662.2,502.6 678.0,517.2" fill="none" stroke="#0d0d0d" stroke-width="2.0"/>
<path d="M652.2,531 V518.8 A10,6.2 0 0 1 672.2,518.8 V531" fill="none" stroke="#0d0d0d" stroke-width="2.0"/>
<path d="M647.4000000000001,518.5 Q646.0,525 648.0,531 M677.0,518.5 Q678.4000000000001,525 676.4000000000001,531" fill="none" stroke="#0d0d0d" stroke-width="1.3"/>
<circle cx="662.2" cy="520.1" r="1.9" fill="#0d0d0d"/>
<line x1="645.9" y1="531.2" x2="678.5" y2="531.2" stroke="#0d0d0d" stroke-width="1.83" />
<line x1="645.9" y1="533.6" x2="678.5" y2="533.6" stroke="#0d0d0d" stroke-width="1.586" />
<circle cx="648.0" cy="535.6" r="1.1" fill="none" stroke="#0d0d0d" stroke-width="0.9"/><circle cx="676.6" cy="535.6" r="1.1" fill="none" stroke="#0d0d0d" stroke-width="0.9"/>
<path d="M645.8000000000001,539.8 Q662.2,526.4 678.6,539.8" fill="none" stroke="#0d0d0d" stroke-width="2.0"/>
<ellipse cx="662.2" cy="553.7" rx="15.8" ry="10.8" fill="none" stroke="#0d0d0d" stroke-width="2.2"/>
<path d="M653.6,536.8 H671.5 M648.2,552.6 H676.2 M649.2,555.2 H675.2 M653.6,536.8 V554.6 M671.5,536.8 V554.6" fill="none" stroke="#222" stroke-width="0.9" stroke-dasharray="3.2 1.6"/>
<circle cx="648.8000000000001" cy="555.2" r="0.9" fill="#0d0d0d"/><circle cx="675.6" cy="555.2" r="0.9" fill="#0d0d0d"/>
<path d="M703.1,553 V511.5 A16.3,11.4 0 0 1 735.6999999999999,511.5 V553 A16.3,11.5 0 0 1 703.1,553 Z" fill="#fff" stroke="#0d0d0d" stroke-width="2.4"/>
<path d="M703.6,517.2 Q719.4,502.6 735.1999999999999,517.2" fill="none" stroke="#0d0d0d" stroke-width="2.0"/>
<path d="M709.4,531 V518.8 A10,6.2 0 0 1 729.4,518.8 V531" fill="none" stroke="#0d0d0d" stroke-width="2.0"/>
<path d="M704.6,518.5 Q703.1999999999999,525 705.1999999999999,531 M734.1999999999999,518.5 Q735.6,525 733.6,531" fill="none" stroke="#0d0d0d" stroke-width="1.3"/>
<circle cx="719.4" cy="520.1" r="1.9" fill="#0d0d0d"/>
<line x1="703.1" y1="531.2" x2="735.7" y2="531.2" stroke="#0d0d0d" stroke-width="1.83" />
<line x1="703.1" y1="533.6" x2="735.7" y2="533.6" stroke="#0d0d0d" stroke-width="1.586" />
<circle cx="705.1999999999999" cy="535.6" r="1.1" fill="none" stroke="#0d0d0d" stroke-width="0.9"/><circle cx="733.8" cy="535.6" r="1.1" fill="none" stroke="#0d0d0d" stroke-width="0.9"/>
<path d="M703.0,539.8 Q719.4,526.4 735.8,539.8" fill="none" stroke="#0d0d0d" stroke-width="2.0"/>
<ellipse cx="719.4" cy="553.7" rx="15.8" ry="10.8" fill="none" stroke="#0d0d0d" stroke-width="2.2"/>
<path d="M710.8,536.8 H728.6999999999999 M705.4,552.6 H733.4 M706.4,555.2 H732.4 M710.8,536.8 V554.6 M728.6999999999999,536.8 V554.6" fill="none" stroke="#222" stroke-width="0.9" stroke-dasharray="3.2 1.6"/>
<circle cx="706.0" cy="555.2" r="0.9" fill="#0d0d0d"/><circle cx="732.8" cy="555.2" r="0.9" fill="#0d0d0d"/>
<rect x="679.2" y="530.8" width="23.2" height="23.6" fill="none" stroke="#0d0d0d" stroke-width="1.83"/>
<line x1="662.5" y1="481.0" x2="662.5" y2="575.0" stroke="#8d8d9a" stroke-width="0.7" />
<line x1="718.6" y1="481.0" x2="718.6" y2="575.0" stroke="#8d8d9a" stroke-width="0.7" />
<line x1="653.7" y1="499.0" x2="653.7" y2="560.0" stroke="#a5a5b0" stroke-width="0.6" />
<line x1="727.9" y1="499.0" x2="727.9" y2="560.0" stroke="#a5a5b0" stroke-width="0.6" />
<polyline points="650.0,561.5 657.5,571.0" fill="none" stroke="#0d0d0d" stroke-width="1.952" stroke-linejoin="miter" />
<polyline points="674.0,562.5 668.0,571.0" fill="none" stroke="#0d0d0d" stroke-width="1.708" stroke-linejoin="miter" />
<polyline points="731.6,561.5 724.0,571.0" fill="none" stroke="#0d0d0d" stroke-width="1.952" stroke-linejoin="miter" />
<polyline points="707.6,562.5 713.6,571.0" fill="none" stroke="#0d0d0d" stroke-width="1.708" stroke-linejoin="miter" />
<line x1="662.5" y1="565.0" x2="662.5" y2="575.0" stroke="#0d0d0d" stroke-width="1.586" />
<line x1="718.6" y1="565.0" x2="718.6" y2="575.0" stroke="#0d0d0d" stroke-width="1.586" />
<line x1="657.5" y1="571.3" x2="724.2" y2="571.3" stroke="#0d0d0d" stroke-width="2.318" />
<rect x="662.0" y="571.3" width="58.4" height="38.0" fill="none" stroke="#0d0d0d" stroke-width="2.562"/>
<polyline points="657.5,571.0 636.2,590.2 636.2,594.2 659.0,594.2" fill="none" stroke="#0d0d0d" stroke-width="2.196" stroke-linejoin="miter" />
<polyline points="724.2,571.0 745.4,590.2 745.4,594.2 722.6,594.2" fill="none" stroke="#0d0d0d" stroke-width="2.196" stroke-linejoin="miter" />
<line x1="636.0" y1="593.8" x2="659.0" y2="593.8" stroke="#0d0d0d" stroke-width="3.172" />
<line x1="722.6" y1="593.8" x2="745.6" y2="593.8" stroke="#0d0d0d" stroke-width="3.172" />
<line x1="658.3" y1="571.0" x2="658.3" y2="609.0" stroke="#0d0d0d" stroke-width="1.586" />
<line x1="723.4" y1="571.0" x2="723.4" y2="609.0" stroke="#0d0d0d" stroke-width="1.586" />
<line x1="640.4" y1="595.0" x2="640.4" y2="627.0" stroke="#0d0d0d" stroke-width="1.83" />
<line x1="649.6" y1="595.0" x2="649.6" y2="627.0" stroke="#0d0d0d" stroke-width="1.83" />
<line x1="643.4" y1="597.0" x2="643.4" y2="627.0" stroke="#333" stroke-width="0.8" />
<line x1="646.6" y1="597.0" x2="646.6" y2="627.0" stroke="#333" stroke-width="0.8" />
<rect x="638.5" y="595.4" width="13" height="2.6" fill="#0d0d0d"/>
<rect x="639.0" y="604" width="12" height="2.2" fill="#0d0d0d"/>
<line x1="635.4" y1="610.2" x2="654.6" y2="610.2" stroke="#0d0d0d" stroke-width="3.416" />
<rect x="639.0" y="607" width="12" height="2" fill="#0d0d0d"/>
<line x1="732.0" y1="595.0" x2="732.0" y2="627.0" stroke="#0d0d0d" stroke-width="1.83" />
<line x1="741.2" y1="595.0" x2="741.2" y2="627.0" stroke="#0d0d0d" stroke-width="1.83" />
<line x1="735.0" y1="597.0" x2="735.0" y2="627.0" stroke="#333" stroke-width="0.8" />
<line x1="738.2" y1="597.0" x2="738.2" y2="627.0" stroke="#333" stroke-width="0.8" />
<rect x="730.1" y="595.4" width="13" height="2.6" fill="#0d0d0d"/>
<rect x="730.6" y="604" width="12" height="2.2" fill="#0d0d0d"/>
<line x1="727.0" y1="610.2" x2="746.2" y2="610.2" stroke="#0d0d0d" stroke-width="3.416" />
<rect x="730.6" y="607" width="12" height="2" fill="#0d0d0d"/>
<polyline points="671.8,610.0 671.8,626.6" fill="none" stroke="#0d0d0d" stroke-width="2.196" stroke-linejoin="miter" />
<polyline points="710.0,610.0 710.0,626.6" fill="none" stroke="#0d0d0d" stroke-width="2.196" stroke-linejoin="miter" />
<rect x="637.4" y="627.8" width="108.2" height="7.0" fill="none" stroke="#0d0d0d" stroke-width="2.318"/>
<line x1="662.0" y1="628.4" x2="720.0" y2="628.4" stroke="#0d0d0d" stroke-width="3.416" />
<line x1="654.3" y1="628.0" x2="654.3" y2="634.5" stroke="#0d0d0d" stroke-width="1.2" />
<line x1="728.2" y1="628.0" x2="728.2" y2="634.5" stroke="#0d0d0d" stroke-width="1.2" />
<line x1="638.0" y1="631.4" x2="652.0" y2="631.4" stroke="#0d0d0d" stroke-width="1.952" />
<line x1="731.0" y1="631.4" x2="745.0" y2="631.4" stroke="#0d0d0d" stroke-width="1.952" />
<line x1="645.4" y1="635.0" x2="645.4" y2="664.0" stroke="#5a5a66" stroke-width="0.8" />
<line x1="737.6" y1="635.0" x2="737.6" y2="664.0" stroke="#5a5a66" stroke-width="0.8" />
<line x1="645.4" y1="659.9" x2="737.6" y2="659.9" stroke="#3c3c44" stroke-width="0.8" />
<path d="M645.4,659.9 l6.5,-1.1 v2.2 z M737.6,659.9 l-6.5,-1.1 v2.2 z" fill="#222"/>
<line x1="637.8" y1="635.0" x2="637.8" y2="691.0" stroke="#5a5a66" stroke-width="0.8" />
<line x1="745.2" y1="635.0" x2="745.2" y2="691.0" stroke="#5a5a66" stroke-width="0.8" />
<line x1="637.8" y1="687.3" x2="745.2" y2="687.3" stroke="#3c3c44" stroke-width="0.8" />
<path d="M637.8,687.3 l6.5,-1.1 v2.2 z M745.2,687.3 l-6.5,-1.1 v2.2 z" fill="#222"/>
<g style="filter:grayscale(1)"><text transform="translate(302.4,431.3) scale(0.66,1)" text-anchor="middle" font-family="Liberation Sans, sans-serif" font-size="17" fill="#2c2c2c" letter-spacing="1.2" opacity="0.999">L</text><text transform="translate(302.6,469.8) scale(0.66,1)" text-anchor="middle" font-family="Liberation Sans, sans-serif" font-size="17" fill="#2c2c2c" letter-spacing="1.2" opacity="0.999">L 2</text><text transform="translate(27.0,590.4) rotate(-90) scale(0.66,1)" text-anchor="middle" font-family="Liberation Sans, sans-serif" font-size="15.5" fill="#2c2c2c" letter-spacing="1.2" opacity="0.999">h 1</text><text transform="translate(27.0,621.6) rotate(-90) scale(0.66,1)" text-anchor="middle" font-family="Liberation Sans, sans-serif" font-size="15.5" fill="#2c2c2c" letter-spacing="1.2" opacity="0.999">h2</text><text transform="translate(74.8,653.8) scale(0.66,1)" text-anchor="middle" font-family="Liberation Sans, sans-serif" font-size="15.5" fill="#2c2c2c" letter-spacing="1.2" opacity="0.999">a</text><text transform="translate(75.0,678.2) scale(0.66,1)" text-anchor="middle" font-family="Liberation Sans, sans-serif" font-size="15.5" fill="#2c2c2c" letter-spacing="0.6" opacity="0.999">a 1</text><text transform="translate(310.2,676.6) scale(0.66,1)" text-anchor="middle" font-family="Liberation Sans, sans-serif" font-size="17" fill="#2c2c2c" letter-spacing="1.2" opacity="0.999">L1</text><text transform="translate(485.2,676.6) scale(0.66,1)" text-anchor="middle" font-family="Liberation Sans, sans-serif" font-size="17" fill="#2c2c2c" letter-spacing="1.2" opacity="0.999">L3</text><text transform="translate(510.8,522.8) scale(0.66,1)" text-anchor="middle" font-family="Liberation Sans, sans-serif" font-size="15.5" fill="#2c2c2c" letter-spacing="1.2" opacity="0.999">a 1</text><text transform="translate(512.2,544.4) scale(0.66,1)" text-anchor="middle" font-family="Liberation Sans, sans-serif" font-size="15.5" fill="#2c2c2c" letter-spacing="1.2" opacity="0.999">a</text><text transform="translate(575.0,610.0) rotate(-90) scale(0.66,1)" text-anchor="middle" font-family="Liberation Sans, sans-serif" font-size="15.5" fill="#2c2c2c" letter-spacing="1.2" opacity="0.999">h</text><text transform="translate(567.2,545.0) rotate(-90) scale(0.66,1)" text-anchor="middle" font-family="Liberation Sans, sans-serif" font-size="15.5" fill="#2c2c2c" letter-spacing="1.2" opacity="0.999">h2</text><text transform="translate(694.5,454.6) scale(0.66,1)" text-anchor="middle" font-family="Liberation Sans, sans-serif" font-size="16" fill="#2c2c2c" letter-spacing="1.2" opacity="0.999">b 3</text><text transform="translate(691.8,480.6) scale(0.66,1)" text-anchor="middle" font-family="Liberation Sans, sans-serif" font-size="16" fill="#2c2c2c" letter-spacing="1.2" opacity="0.999">b2</text><text transform="translate(692.2,656.2) scale(0.66,1)" text-anchor="middle" font-family="Liberation Sans, sans-serif" font-size="16" fill="#2c2c2c" letter-spacing="1.2" opacity="0.999">b1</text><text transform="translate(692.6,683.2) scale(0.66,1)" text-anchor="middle" font-family="Liberation Sans, sans-serif" font-size="16" fill="#2c2c2c" letter-spacing="1.2" opacity="0.999">b</text></g>
</g>
</svg>
</body></html>
